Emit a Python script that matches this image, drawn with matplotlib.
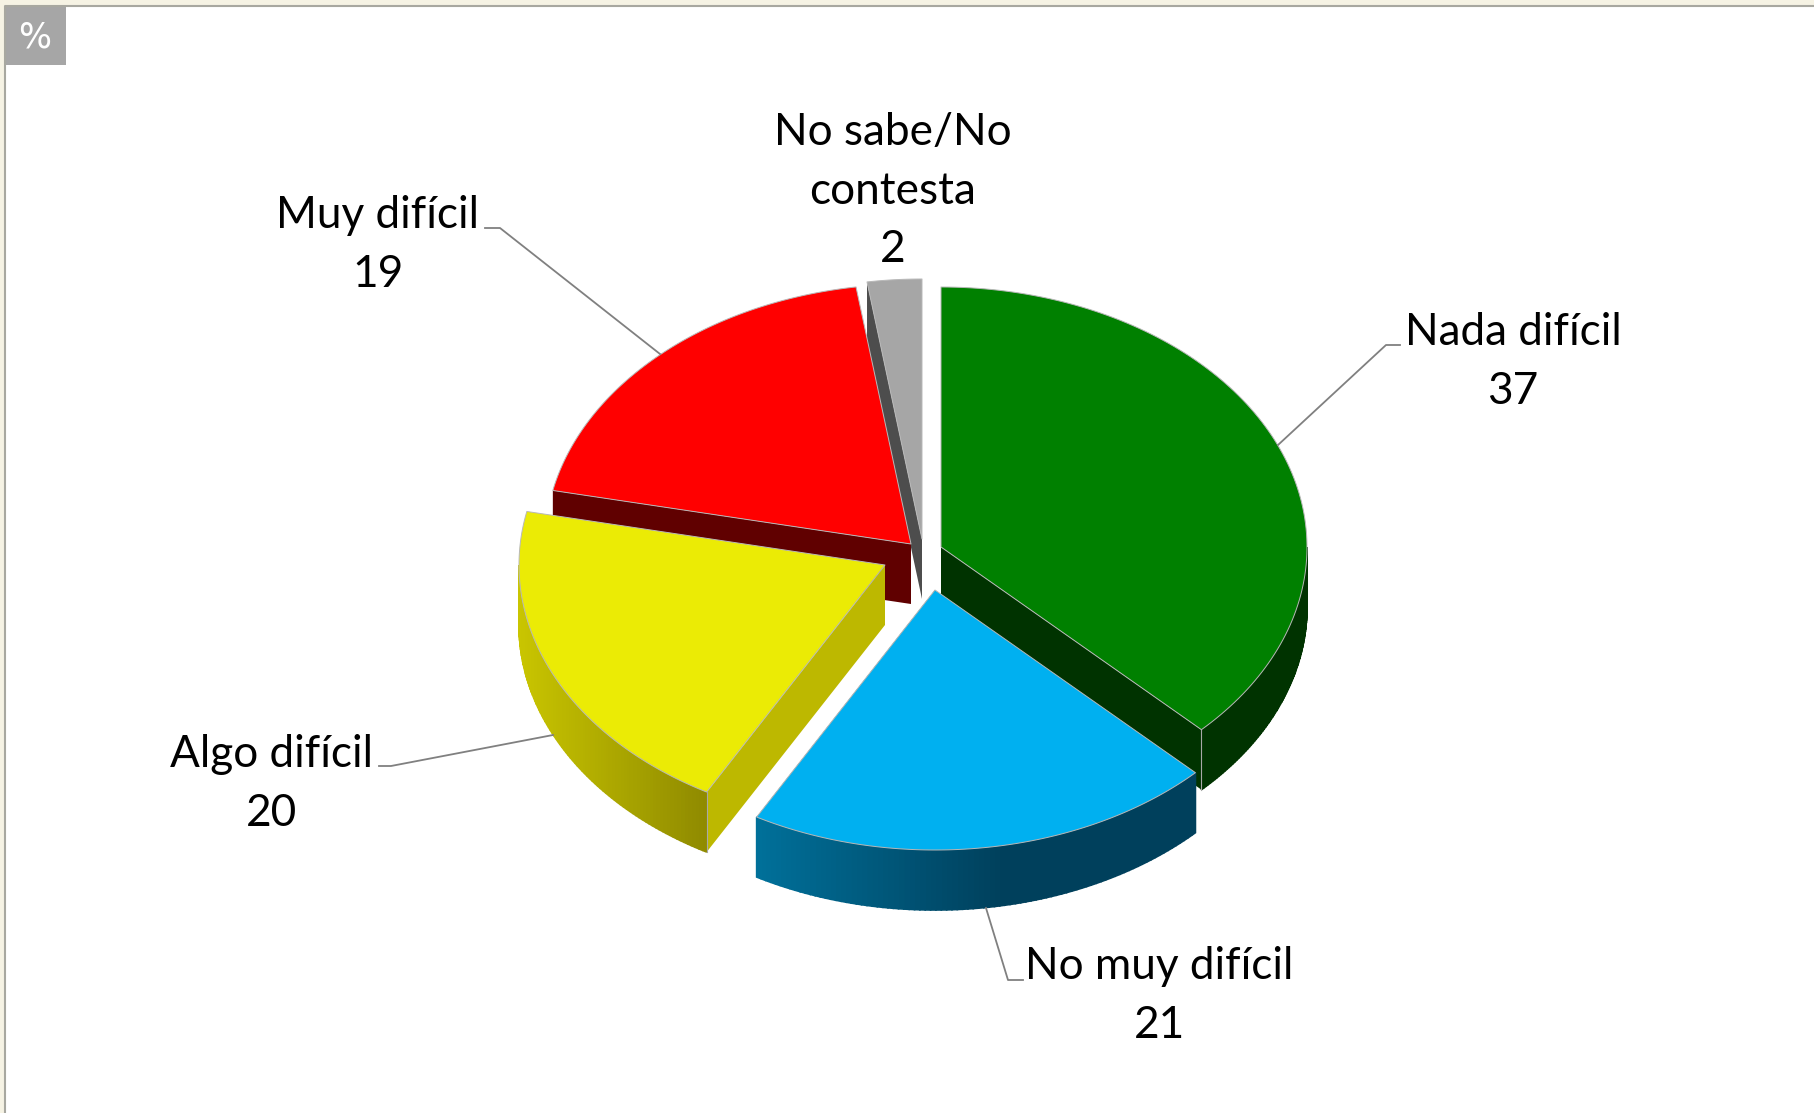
import numpy as np
import matplotlib
matplotlib.use("Agg")
import matplotlib.pyplot as plt
from matplotlib.colors import to_rgb
from matplotlib.patches import Polygon, Rectangle

plt.rcParams['font.family'] = ['Lato', 'DejaVu Sans']

# unrounded shares, the labels show them rounded
categories = ["Nada difícil", "No muy difícil", "Algo difícil", "Muy difícil", "No sabe/No\ncontesta"]
values = [37.4, 20.7, 20.2, 19.3, 2.4]
top_colors = ["#008000", "#00b0f0", "#ebeb05", "#ff0000", "#a6a6a6"]
face_colors = ["#003300", "#004f70", "#bdb800", "#600000", "#4d4d4d"]
wall_left = ["#003300", "#00709a", "#c9c500", "#600000", "#4d4d4d"]
wall_right = ["#003300", "#00405c", "#8f8a00", "#600000", "#4d4d4d"]

# slice apex in pixels, each slice is pulled out by a different amount
centers = [(941, 547), (935, 590), (885, 565), (911, 544), (922, 539)]
label_pos = [(1513, 362), (1159, 996), (272, 784), (378, 245), (893, 191)]
leaders = [
    [(1278, 445), (1386, 345), (1400, 345)],
    [(986, 908), (1008, 980), (1023, 980)],
    [(553, 735), (391, 766), (379, 766)],
    [(660, 354), (500, 228), (485, 228)],
]

RX, RY, DEPTH = 366, 260, 60


def rim(center, deg):
    a = np.radians(deg)
    return center[0] + RX * np.sin(a), center[1] - RY * np.cos(a)


fig = plt.figure(figsize=(18.14, 11.13), dpi=100)
ax = fig.add_axes([0, 0, 1, 1])
ax.set_xlim(0, 1814)
ax.set_ylim(1113, 0)
ax.axis('off')

# window frame
ax.add_patch(Rectangle((0, 0), 1814, 5, color="#f6f3e4", lw=0))
ax.add_patch(Rectangle((0, 0), 4, 1113, color="#f6f3e4", lw=0))
ax.plot([4.5, 4.5, 1814], [1113, 5.5, 5.5], color="#a8a8a0", lw=1.5)
ax.add_patch(Rectangle((6, 7), 60, 58, color="#a6a6a6", lw=0))
ax.text(35, 37, "%", color="white", fontsize=25, ha="center", va="center", family="DejaVu Sans")

edges = np.cumsum([0] + values) / sum(values) * 360
starts = edges[:-1]
ends = edges[1:]

# back slices first
for i in [4, 3, 0, 2, 1]:
    c = centers[i]
    s, e = starts[i], ends[i]

    # flat cut faces that can be seen from the front
    if i in (0, 1):
        cut = [c, rim(c, e)]
    else:
        cut = [c, rim(c, s)]
    x0, y0 = cut[0]
    x1, y1 = cut[1]
    ax.add_patch(Polygon([(x0, y0), (x1, y1), (x1, y1 + DEPTH), (x0, y0 + DEPTH)],
                         color=face_colors[i], lw=0))

    # outer wall, only the front half of the rim
    lo, hi = max(s, 90), min(e, 270)
    if hi > lo:
        steps = np.linspace(lo, hi, 90)
        xs = [rim(c, d)[0] for d in steps]
        x_a, x_b = min(xs), max(xs)
        left = np.array(to_rgb(wall_left[i]))
        right = np.array(to_rgb(wall_right[i]))
        for d0, d1 in zip(steps[:-1], steps[1:]):
            p0, p1 = rim(c, d0), rim(c, d1)
            t = (0.5 * (p0[0] + p1[0]) - x_a) / max(x_b - x_a, 1)
            if i == 1:
                t = min(t * 1.8, 1)
            col = left * (1 - t) + right * t
            ax.add_patch(Polygon([p0, p1, (p1[0], p1[1] + DEPTH), (p0[0], p0[1] + DEPTH)],
                                 facecolor=col, edgecolor=col, lw=1.2))

    # top of the slice
    arc = [rim(c, d) for d in np.linspace(s, e, 120)]
    ax.add_patch(Polygon([c] + arc, closed=True, facecolor=top_colors[i],
                         edgecolor="#b8b8b8", lw=0.7, joinstyle="round"))

# thin corner lines on the walls
for i, deg in [(0, ends[0]), (2, ends[1])]:
    x, y = rim(centers[i], deg)
    ax.plot([x, x], [y, y + DEPTH], color="#a8a8a8", lw=0.8)

for pts in leaders:
    ax.plot([p[0] for p in pts], [p[1] for p in pts], color="#808080", lw=1.3)

for name, v, (x, y) in zip(categories, values, label_pos):
    ax.text(x, y, f"{name}\n{v:.0f}", fontsize=31.8, color="black", ha="center", va="center",
            linespacing=1.53)

fig.savefig("out.png", dpi=100, facecolor="white")
